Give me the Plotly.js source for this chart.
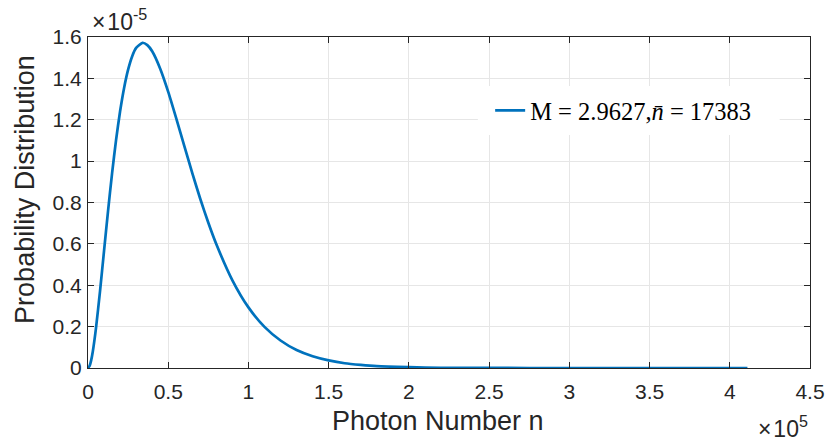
<!DOCTYPE html>
<html>
<head>
<meta charset="utf-8">
<script src="https://cdn.plot.ly/plotly-3.0.1.min.js"></script>
<style>html,body{margin:0;padding:0;background:#fff;}#chart{width:827px;height:445px;}</style>
</head>
<body>
<div id="chart"></div>
<script>
// Photon number n, in units of 1e5
const photonNumber = [0, 0.01, 0.02, 0.03, 0.05, 0.075, 0.10, 0.125, 0.15, 0.175, 0.20, 0.225, 0.25, 0.275, 0.30, 0.34, 0.37, 0.40, 0.45, 0.50, 0.55, 0.60, 0.65, 0.70, 0.75, 0.80, 0.90, 1.00, 1.10, 1.20, 1.30, 1.40, 1.50, 1.60, 1.70, 1.80, 2.00, 2.20, 2.50, 3.00, 3.50, 4.11];
// Probability distribution, in units of 1e-5
const probability = [0, 0.010, 0.038, 0.080, 0.194, 0.372, 0.566, 0.760, 0.941, 1.103, 1.241, 1.354, 1.442, 1.506, 1.547, 1.572, 1.561, 1.531, 1.447, 1.335, 1.207, 1.074, 0.942, 0.817, 0.702, 0.598, 0.424, 0.293, 0.199, 0.133, 0.087, 0.057, 0.037, 0.023, 0.015, 0.009, 0.004, 0.001, 0.0003, 0, 0, 0];
const seriesName = 'M = 2.9627,<i>n\u0304</i> = 17383';
const xTicks = [0, 0.5, 1, 1.5, 2, 2.5, 3, 3.5, 4, 4.5];
const xTickText = ['0', '0.5', '1', '1.5', '2', '2.5', '3', '3.5', '4', '4.5'];
const yTicks = [0, 0.2, 0.4, 0.6, 0.8, 1, 1.2, 1.4, 1.6];
const yTickText = ['0', '0.2', '0.4', '0.6', '0.8', '1', '1.2', '1.4', '1.6'];
const xTitle = 'Photon Number n';
const yTitle = 'Probability Distribution';
const yExponent = '\u00d7\u200a10<sup>-5</sup>';
const xExponent = '\u00d7\u200a10<sup>5</sup>';

const axisColor = '#262626';
const gridColor = '#e6e6e6';
const sans = 'Liberation Sans, Arial, sans-serif';
const serif = 'Liberation Serif, Times New Roman, serif';

const trace = {
  x: photonNumber,
  y: probability,
  type: 'scatter',
  mode: 'lines',
  name: seriesName,
  line: {color: '#0072BD', width: 2.7, shape: 'spline', smoothing: 0.6},
  showlegend: true
};

const axisCommon = {
  ticks: 'inside', ticklen: 6, tickcolor: axisColor, tickwidth: 1,
  showline: true, linecolor: axisColor, linewidth: 1, mirror: 'ticks',
  showgrid: true, gridcolor: gridColor, gridwidth: 1, zeroline: false,
  tickfont: {family: sans, size: 21, color: axisColor},
  automargin: false
};

const layout = {
  width: 827, height: 445,
  margin: {l: 88, r: 17, t: 37, b: 77},
  paper_bgcolor: '#ffffff',
  plot_bgcolor: '#ffffff',
  font: {family: sans, color: axisColor, size: 21},
  xaxis: Object.assign({range: [0, 4.5], tickvals: xTicks, ticktext: xTickText, ticklabelstandoff: 5}, axisCommon),
  yaxis: Object.assign({range: [0, 1.6], tickvals: yTicks, ticktext: yTickText, ticklabelstandoff: 1}, axisCommon),
  legend: {
    x: 0.557, y: 0.846, xanchor: 'left', yanchor: 'top',
    bgcolor: 'rgba(0,0,0,0)', borderwidth: 0,
    font: {family: serif, size: 24.5, color: '#000000'},
    itemwidth: 30
  },
  shapes: [
    {type: 'rect', xref: 'paper', yref: 'paper', x0: 0.540, x1: 0.958, y0: 0.704, y1: 0.852,
     fillcolor: '#ffffff', line: {width: 0}, layer: 'above'}
  ],
  annotations: [
    {xref: 'paper', yref: 'paper', x: 0.4848, y: -0.160, xanchor: 'center', yanchor: 'middle',
     text: xTitle, showarrow: false, font: {family: sans, size: 27, color: axisColor}},
    {xref: 'paper', yref: 'paper', x: -0.0873, y: 0.541, xanchor: 'center', yanchor: 'middle', textangle: -90,
     text: yTitle, showarrow: false, font: {family: sans, size: 27, color: axisColor}},
    {xref: 'paper', yref: 'paper', x: 0.003, y: 1, xanchor: 'left', yanchor: 'bottom', yshift: 0,
     text: yExponent, showarrow: false, font: {family: sans, size: 23, color: axisColor}},
    {xref: 'paper', yref: 'paper', x: 1.0, y: -0.2296, xanchor: 'right', yanchor: 'bottom',
     text: xExponent, showarrow: false, font: {family: sans, size: 23, color: axisColor}}
  ]
};

Plotly.newPlot('chart', [trace], layout, {displayModeBar: false, staticPlot: true});
</script>
</body>
</html>
